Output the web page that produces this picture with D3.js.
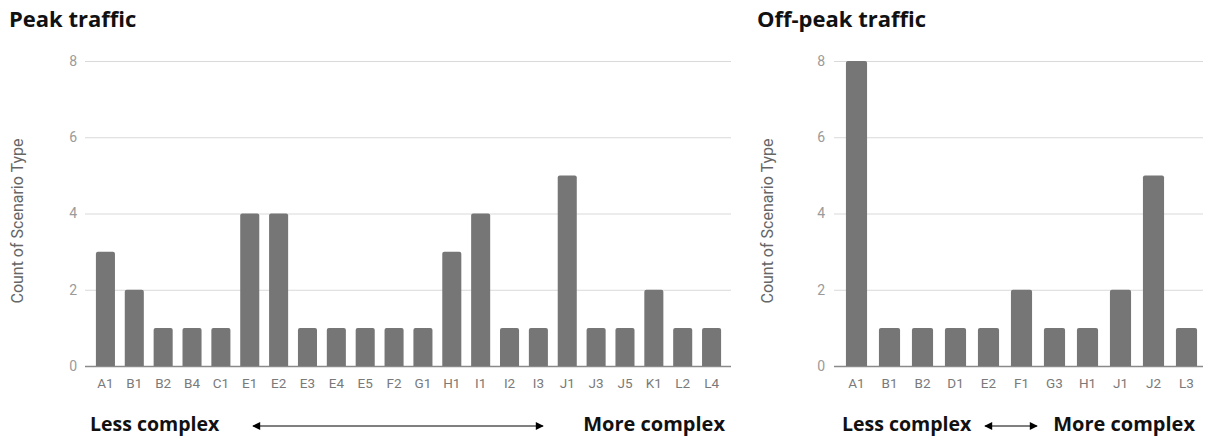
<!DOCTYPE html>
<html><head><meta charset="utf-8">
<script src="https://cdn.jsdelivr.net/npm/d3@7"></script>
<style>body{margin:0;background:#fff}svg{display:block}</style>
</head><body>
<svg id="c" width="1205" height="439"></svg>
<script>
const peakCategories = ["A1","B1","B2","B4","C1","E1","E2","E3","E4","E5","F2","G1","H1","I1","I2","I3","J1","J3","J5","K1","L2","L4"];
const peakValues = [3,2,1,1,1,4,4,1,1,1,1,1,3,4,1,1,5,1,1,2,1,1];
const offCategories = ["A1","B1","B2","D1","E2","F1","G3","H1","J1","J2","L3"];
const offValues = [8,1,1,1,1,2,1,1,2,5,1];
const yTicks = [0,2,4,6,8];
const titles = ["Peak traffic","Off-peak traffic"];
const yTitle = "Count of Scenario Type";

const svg = d3.select("#c");
const panels = [
  {cats:peakCategories, vals:peakValues, title:titles[0], gx0:85, gx1:731, bx0:91, bx1:726, pad:0.34, titleX:9, yTitleX:18, tickX:77,
   less:[90], arrow:[253,543], more:[725]},
  {cats:offCategories, vals:offValues, title:titles[1], gx0:834, gx1:1203, bx0:840, bx1:1203, pad:0.36, titleX:757, yTitleX:768, tickX:825,
   less:[842], arrow:[985,1037], more:[1195]}
];
const defs = svg.append("defs");
defs.append("marker").attr("id","ah").attr("viewBox","0 0 10 10").attr("refX",9).attr("refY",5)
  .attr("markerWidth",9).attr("markerHeight",8).attr("markerUnits","userSpaceOnUse").attr("orient","auto-start-reverse")
  .append("path").attr("d","M0,0L10,5L0,10z").attr("fill","#000");

const boldFont = "'Open Sans', Lato, sans-serif";
panels.forEach(p => {
  const g = svg.append("g");
  const y = d3.scaleLinear().domain([0,8]).range([366,61]);
  const x = d3.scaleBand().domain(p.cats).range([p.bx0,p.bx1]).paddingInner(p.pad).paddingOuter(p.pad/2);
  g.selectAll(".grid").data(yTicks).enter().append("line")
    .attr("x1",p.gx0).attr("x2",p.gx1).attr("y1",d=>y(d)+0.5).attr("y2",d=>y(d)+0.5)
    .attr("stroke",d=>d===0?"#8a8a8a":"#d9d9d9").attr("stroke-width",d=>d===0?1.5:1);
  g.selectAll(".yt").data(yTicks).enter().append("text")
    .attr("x",p.tickX).attr("y",d=>y(d)).attr("dy","0.35em").attr("text-anchor","end")
    .attr("font-family","Roboto, sans-serif").attr("font-size",14).attr("fill","#9a9a9a").text(d=>d);
  g.selectAll(".bar").data(p.vals).enter().append("path")
    .attr("fill","#767676")
    .attr("d",(d,i)=>{
      const x0=x(p.cats[i]), w=x.bandwidth(), y0=y(d), y1=y(0), r=2;
      return `M${x0},${y1}V${y0+r}Q${x0},${y0} ${x0+r},${y0}H${x0+w-r}Q${x0+w},${y0} ${x0+w},${y0+r}V${y1}Z`;
    });
  g.selectAll(".xl").data(p.cats).enter().append("text")
    .attr("x",d=>x(d)+x.bandwidth()/2).attr("y",383).attr("dy","0.35em").attr("text-anchor","middle")
    .attr("font-family","Roboto, sans-serif").attr("font-size",13.5).attr("fill","#7a7a7a").text(d=>d);
  g.append("text").attr("transform",`translate(${p.yTitleX+5},221) rotate(-90)`).attr("text-anchor","middle")
    .attr("font-family","Roboto, sans-serif").attr("font-size",16).attr("fill","#666").text(yTitle);
  g.append("text").attr("x",p.titleX).attr("y",27).attr("font-family",boldFont).attr("font-weight","bold")
    .attr("font-size",22).attr("fill","#111").text(p.title);
  g.append("text").attr("x",p.less[0]).attr("y",431).attr("font-family",boldFont).attr("font-weight","bold")
    .attr("font-size",19.5).attr("fill","#111").text("Less complex");
  g.append("text").attr("x",p.more[0]).attr("y",431).attr("text-anchor","end").attr("font-family",boldFont).attr("font-weight","bold")
    .attr("font-size",20).attr("fill","#111").text("More complex");
  g.append("line").attr("x1",p.arrow[0]).attr("x2",p.arrow[1]).attr("y1",426).attr("y2",426)
    .attr("stroke","#000").attr("stroke-width",1)
    .attr("marker-start","url(#ah)").attr("marker-end","url(#ah)");
});
</script>
</body></html>
